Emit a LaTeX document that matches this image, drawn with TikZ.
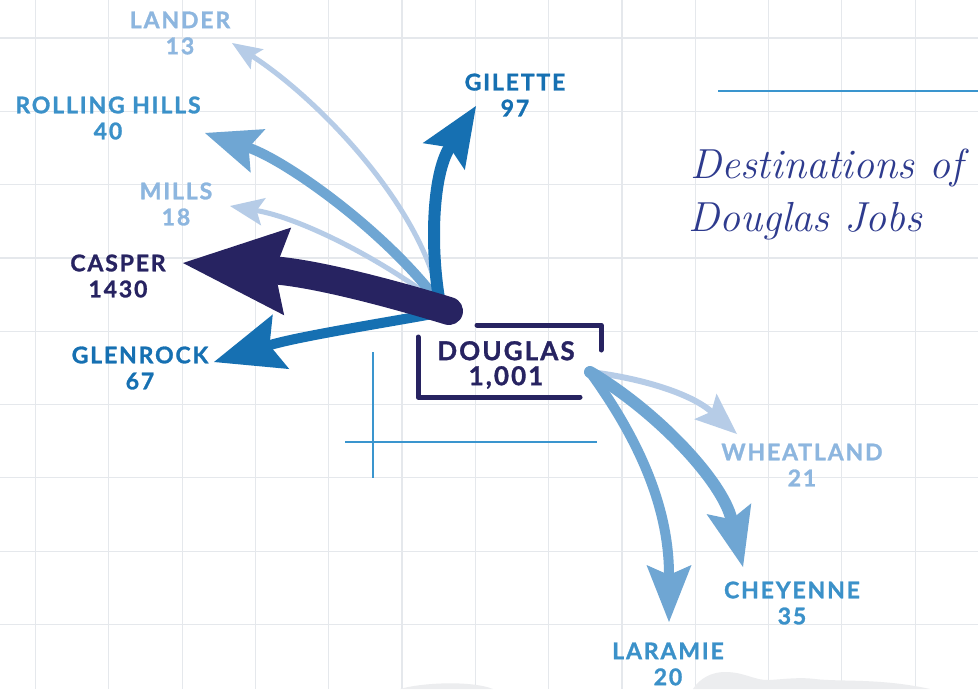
\documentclass[tikz,border=0pt]{standalone}
\usepackage{fontspec}
\usepackage{xcolor}
\usetikzlibrary{arrows.meta}
\newfontfamily\cityfont{Lato}[LetterSpace=8, BoldFeatures={FakeBold=1.2}]
\definecolor{navy}{HTML}{272361}
\definecolor{deepblue}{HTML}{1670B2}
\definecolor{midblue}{HTML}{6FA6D3}
\definecolor{midtext}{HTML}{3B91C9}
\definecolor{lightblue}{HTML}{B6CCE7}
\definecolor{lighttext}{HTML}{8DB6DF}
\definecolor{rulecolor}{HTML}{3A95CE}
\definecolor{inkcolor}{HTML}{2E3B8E}
\definecolor{gridcolor}{HTML}{E5E8EC}
\definecolor{blobcolor}{HTML}{ECEDEF}

\begin{document}
\begin{tikzpicture}[
    x=1pt, y=-1pt,
    city/.style={text=#1, font=\cityfont\bfseries\fontsize{23}{26}\selectfont,
                 align=center, inner sep=0pt},
    flow/.style n args={5}{draw=#1, line width=#2, line cap=round,
                 -{Stealth[length=#3, width=#4, inset=#5, line width=0pt]}},
    gridline/.style={draw=gridcolor, line width=1.2pt},
    bracket/.style={draw=navy, line width=5pt, line cap=round, line join=round},
    rule/.style={draw=rulecolor, line width=2.5pt}
]

\fill[white] (0,0) rectangle (978,689);
\useasboundingbox (0,0) rectangle (978,689);

% grid paper
\foreach \gx in {0,...,12}
    \draw[gridline] (35.5+73.3*\gx,0) -- (35.5+73.3*\gx,689);
\foreach \gy in {0,...,8}
    \draw[gridline] (0,38+73.3*\gy) -- (978,38+73.3*\gy);

\fill[blobcolor] (693,689) .. controls (700,678) and (712,672) .. (725,672)
    .. controls (745,672) and (755,681) .. (770,680)
    .. controls (785,679) and (800,677) .. (815,679)
    .. controls (840,682) and (880,678) .. (930,689) -- cycle;
\fill[blobcolor] (400,689) .. controls (420,683) and (470,680) .. (493,689) -- cycle;

% labels
\node[city=lighttext] (lander) at (180,33) {LANDER\\13};
\node[city=midtext] (rolling) at (108,118) {ROLLING HILLS\\40};
\node[city=lighttext] (mills) at (176,204) {MILLS\\18};
\node[city=navy] (casper) at (118,276) {CASPER\\1430};
\node[city=deepblue] (glenrock) at (140,368) {GLENROCK\\67};
\node[city=deepblue] (gilette) at (515,95) {GILETTE\\97};
\node[city=navy, font=\cityfont\bfseries\fontsize{26}{25}\selectfont] (douglas) at (506,365) {DOUGLAS\\1,001};
\node[city=lighttext] (wheatland) at (802,465) {WHEATLAND\\21};
\node[city=midtext] (cheyenne) at (792,603) {CHEYENNE\\35};
\node[city=midtext] (laramie) at (668,664) {LARAMIE\\20};

% arrow ends
\coordinate (nwhub) at (440,304);
\coordinate (castart) at (449,311);
\coordinate (sehub) at (590,372);
\coordinate (landertip) at (232,43);
\coordinate (rollingtip) at (205,133);
\coordinate (millstip) at (230,206);
\coordinate (caspertip) at (183,263);
\coordinate (glenrocktip) at (214,362);
\coordinate (gilettetip) at (476,106);
\coordinate (wheatlandtip) at (737,434);
\coordinate (cheyennetip) at (743,567);
\coordinate (laramietip) at (669,622);

\draw[flow={lightblue}{5pt}{30pt}{24pt}{6pt}] (nwhub) .. controls (425,210) and (320,100) .. (landertip);
\draw[flow={lightblue}{5pt}{34pt}{28pt}{7pt}] (nwhub) .. controls (380,258) and (300,218) .. (millstip);
\draw[flow={midblue}{10pt}{56pt}{46pt}{10pt}] (nwhub) .. controls (385,230) and (285,160) .. (rollingtip);
\draw[flow={deepblue}{12pt}{60pt}{50pt}{11pt}] (nwhub) .. controls (430,250) and (432,175) .. (gilettetip);
\draw[flow={deepblue}{10pt}{70pt}{57pt}{12pt}] (castart) .. controls (390,322) and (300,336) .. (glenrocktip);
\draw[flow={navy}{28pt}{105pt}{88pt}{13pt}] (castart) .. controls (400,296) and (320,274) .. (caspertip);

\draw[flow={lightblue}{6pt}{42pt}{34pt}{8pt}] (sehub) .. controls (640,378) and (690,393) .. (wheatlandtip);
\draw[flow={midblue}{12pt}{60pt}{46pt}{11pt}] (sehub) .. controls (655,410) and (722,480) .. (cheyennetip);
\draw[flow={midblue}{10pt}{57pt}{45pt}{10pt}] (sehub) .. controls (632,430) and (669,500) .. (laramietip);

% frame round douglas
\draw[bracket] (477,325) -- (601,325) -- (601,350);
\draw[bracket] (418,337) -- (418,397) -- (580,397);
\draw[rule] (373,352) -- (373,478);
\draw[rule] (345,442) -- (597,442);
\draw[rule] (718,91) -- (978,91);

% title
\node[anchor=base west, text=inkcolor, font=\itshape\fontsize{42}{54}\selectfont, inner sep=0pt] (title) at (690,178) {Destinations of};
\node[anchor=base west, text=inkcolor, font=\itshape\fontsize{42}{54}\selectfont, inner sep=0pt] (subtitle) at (688,231) {Douglas Jobs};

\end{tikzpicture}
\end{document}
